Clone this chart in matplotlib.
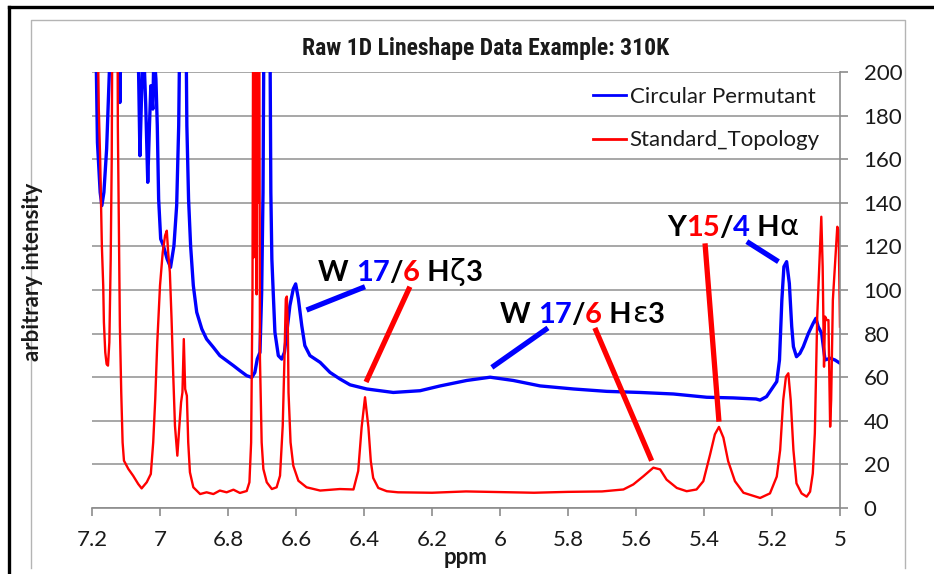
import matplotlib
matplotlib.use("Agg")
import matplotlib.pyplot as plt
from matplotlib.lines import Line2D
from matplotlib import font_manager

blue = '#0000ff'
red = '#ff0000'
gray = '#a0a0a0'

# Circular Permutant trace (ppm, intensity); values > 200 run off the top
cp_ppm = [7.200, 7.190, 7.184, 7.176, 7.171, 7.165, 7.157, 7.149, 7.145, 7.122, 7.118, 7.114,
          7.066, 7.063, 7.059, 7.054, 7.049, 7.042, 7.036, 7.031, 7.027, 7.021, 7.018, 7.012,
          7.008, 7.004, 6.998, 6.990, 6.979, 6.969, 6.959, 6.951, 6.945, 6.941, 6.924, 6.921,
          6.916, 6.910, 6.902, 6.892, 6.877, 6.863, 6.843, 6.824, 6.804, 6.784, 6.765, 6.745,
          6.730, 6.721, 6.714, 6.706, 6.701, 6.697, 6.694, 6.677, 6.674, 6.671, 6.667, 6.662,
          6.652, 6.642, 6.634, 6.627, 6.618, 6.608, 6.601, 6.593, 6.583, 6.574, 6.559, 6.529,
          6.500, 6.471, 6.441, 6.392, 6.314, 6.235, 6.176, 6.098, 6.029, 5.961, 5.882, 5.784,
          5.686, 5.588, 5.490, 5.392, 5.314, 5.247, 5.235, 5.216, 5.196, 5.186, 5.178, 5.171,
          5.165, 5.157, 5.149, 5.142, 5.137, 5.128, 5.118, 5.108, 5.093, 5.079, 5.071, 5.064,
          5.054, 5.044, 5.029, 5.015, 5.000]
cp_int = [230, 230, 167.7, 144.8, 138.7, 144.8, 164.7, 199.8, 230, 230, 186, 230,
          230, 199.8, 161.6, 190.7, 215, 185, 149.4, 175.4, 193.7, 183, 210, 196.8,
          175.4, 141.7, 123.4, 120.3, 114.2, 110.4, 120.3, 138.7, 175.4, 230, 230, 175.4,
          141.7, 120.3, 102, 89.8, 82.1, 77.5, 73.7, 69.9, 67.6, 65.3, 63, 60.7,
          59.9, 62.2, 68.3, 71.4, 98.9, 144.8, 230, 230, 144.8, 114.2, 98.9, 80.6,
          69.9, 68.3, 71.4, 80.6, 92.8, 100.5, 102.8, 95.9, 83.6, 74.5, 69.9, 66.8,
          62.2, 59.2, 56.5, 54.6, 53, 53.8, 56, 58.5, 60, 58.5, 56, 54.6,
          53.5, 53, 52.3, 50.8, 50.5, 50, 49.5, 51.1, 55.7, 58, 67.9, 95.4,
          110.7, 113, 103, 83.2, 74, 69.4, 70.9, 74, 80.1, 84.7, 87, 83.2,
          80.1, 67.9, 68.7, 67.9, 66.4]

# Standard_Topology trace
st_ppm = [7.200, 7.184, 7.180, 7.176, 7.173, 7.171, 7.167, 7.165, 7.161, 7.157, 7.153, 7.149,
          7.145, 7.142, 7.140, 7.125, 7.124, 7.121, 7.118, 7.114, 7.110, 7.106, 7.093, 7.079,
          7.064, 7.054, 7.039, 7.027, 7.020, 7.014, 7.008, 7.000, 6.992, 6.985, 6.980, 6.976,
          6.971, 6.966, 6.961, 6.956, 6.949, 6.943, 6.938, 6.934, 6.930, 6.926, 6.921, 6.917,
          6.912, 6.902, 6.882, 6.863, 6.843, 6.824, 6.804, 6.784, 6.765, 6.745, 6.737, 6.732,
          6.728, 6.726, 6.724, 6.722, 6.720, 6.718, 6.716, 6.714, 6.712, 6.710, 6.708, 6.706,
          6.701, 6.696, 6.686, 6.671, 6.657,
          6.647, 6.639, 6.634, 6.630, 6.627, 6.624, 6.622, 6.616, 6.608, 6.593, 6.569, 6.529,
          6.471, 6.431, 6.417, 6.407, 6.397, 6.387, 6.380, 6.373, 6.358, 6.333, 6.300, 6.200,
          6.100, 6.000, 5.900, 5.800, 5.700, 5.637, 5.608, 5.578, 5.549, 5.529, 5.510, 5.480,
          5.451, 5.422, 5.402, 5.382, 5.368, 5.356, 5.343, 5.329, 5.309, 5.284, 5.235, 5.206,
          5.186, 5.176, 5.167, 5.159, 5.152, 5.145, 5.137, 5.128, 5.113, 5.098, 5.088, 5.080,
          5.074, 5.067, 5.061, 5.055, 5.051, 5.047, 5.044, 5.039, 5.034, 5.029, 5.026, 5.021,
          5.015, 5.008, 5.004, 5.000]
st_int = [230, 230, 183, 160, 137, 120.3, 102, 85.2, 71.4, 66, 65.3, 76,
          114.2, 160, 230, 230, 175.4, 129.5, 83.6, 53, 30.1, 21.7, 17.9, 14.8,
          11, 9, 11.8, 15.6, 30.1, 50, 76, 102, 117.3, 125, 127.2, 117.3,
          108.1, 86.7, 60.7, 37.8, 24, 37.8, 48.5, 53, 77.5, 54.6, 51.5, 30.1,
          16.4, 9.5, 6.4, 7.2, 6.4, 8, 7.2, 8.4, 6.9, 7.8, 11.8, 30,
          98.9, 230, 115, 230, 130, 230, 98, 230, 140, 230, 230, 68.3,
          30.1, 17.9, 11.8, 8.7, 9.5,
          14.8, 37.8, 68.3, 95.9, 97, 83.6, 53, 30.1, 19.4, 12.5, 9.5, 8,
          8.7, 8.5, 17, 37, 50.8, 37, 21.5, 13.8, 9.2, 7.7, 7.2, 7.0,
          7.6, 7.3, 7.0, 7.4, 7.6, 8.5, 10.8, 14.6, 18.5, 17.7, 13, 9.2,
          7.7, 8.5, 12.3, 24.6, 33.8, 37.2, 32.3, 21.5, 12.3, 7, 4.6, 6.7,
          14.4, 26.6, 49.5, 60.2, 61.8, 49.5, 26.6, 11.3, 6.7, 5.2, 7.5, 15.9,
          34.3, 87.8, 110.7, 133.6, 110.7, 64.8, 87.8, 86.2, 86.2, 37.3, 49.5, 95.4,
          110.7, 129, 127.5, 83.2]

xticks = [7.2, 7.0, 6.8, 6.6, 6.4, 6.2, 6.0, 5.8, 5.6, 5.4, 5.2, 5.0]
xlabels = ['7.2', '7', '6.8', '6.6', '6.4', '6.2', '6', '5.8', '5.6', '5.4', '5.2', '5']
yticks = [0, 20, 40, 60, 80, 100, 120, 140, 160, 180, 200]

# peak labels: (text pieces with colours), text anchor
labels = [
    ([('W ', 'k'), ('17', blue), ('/', 'k'), ('6', red), (' H', 'k'), ('ζ', 'k'), ('3', 'k')], (6.535, 108)),
    ([('W ', 'k'), ('17', blue), ('/', 'k'), ('6', red), (' H', 'k'), ('ε', 'k'), ('3', 'k')], (6.000, 88.5)),
    ([('Y', 'k'), ('15', red), ('/', 'k'), ('4', blue), (' H', 'k'), ('α', 'k')], (5.509, 128.4)),
]
leaders = [
    ((6.569, 90.8), (6.397, 101.5), blue),
    ((6.265, 101.5), (6.394, 57.8), red),
    ((5.859, 82.6), (6.024, 64.5), blue),
    ((5.721, 82.6), (5.554, 21.7), red),
    ((5.397, 121.4), (5.356, 39.6), red),
    ((5.274, 122.2), (5.181, 113), blue),
]

# look for a narrow bold face for the title, the original uses a condensed look
entries = font_manager.fontManager.ttflist
names = {f.name for f in entries}
narrow = None
for cand in ['Liberation Sans Narrow', 'Roboto Condensed', 'Open Sans Condensed',
             'Noto Sans Condensed', 'DejaVu Sans Condensed']:
    if cand in names:
        narrow = cand
        break
if narrow is None:
    for f in entries:
        if 'Condensed' in f.name or 'Narrow' in f.name:
            narrow = f.name
            break
title_size = 17 if narrow else 14.5

plt.rcParams['font.family'] = ['Lato', 'DejaVu Sans']

W, H = 934, 574
fig = plt.figure(figsize=(W / 100, H / 100), dpi=100)
ax = fig.add_axes([92 / W, (H - 508) / H, 748 / W, 436 / H])

ax.plot(cp_ppm, cp_int, color=blue, lw=2.4, label='Circular Permutant')
ax.plot(st_ppm, st_int, color=red, lw=1.7, label='Standard_Topology')

ax.set_xlim(7.2, 5.0)
ax.set_ylim(0, 200)
ax.set_xticks(xticks)
ax.set_xticklabels(xlabels)
ax.set_yticks(yticks)
ax.yaxis.tick_right()
ax.grid(axis='y', color=gray, lw=1.3)
ax.set_axisbelow(True)
for s in ['left', 'top']:
    ax.spines[s].set_visible(False)
for s in ['right', 'bottom']:
    ax.spines[s].set_color('#8c8c8c')
    ax.spines[s].set_linewidth(1.2)
ax.tick_params(axis='both', direction='out', length=6, width=1.2, color='#8c8c8c',
               labelsize=16, labelcolor='#1a1a1a')
ax.tick_params(axis='x', pad=10)
ax.tick_params(axis='y', pad=11)

leg = ax.legend(loc='upper left', bbox_to_anchor=(593 / W, 1 - 87 / H),
                bbox_transform=fig.transFigure, frameon=False, fontsize=16,
                handlelength=1.5, handletextpad=0.15, borderpad=0, borderaxespad=0,
                labelspacing=1.05)
for t in leg.get_texts():
    t.set_color('#1a1a1a')
for h in leg.get_lines():
    h.set_linewidth(2.0)

for a, b, c in leaders:
    ax.plot([a[0], b[0]], [a[1], b[1]], color=c, lw=3.8, solid_capstyle='butt', zorder=5)

for parts, (x, y) in labels:
    prev = None
    for s, c in parts:
        greek = s in ('ζ', 'ε', 'α')
        kw = dict(color=c, fontsize=21, fontweight='normal' if greek else 'bold',
                  family=['DejaVu Sans'] if greek else ['Lato', 'DejaVu Sans'], zorder=6)
        if prev is None:
            prev = ax.text(x, y, s, ha='left', va='center', **kw)
        else:
            prev = ax.annotate(s, xy=(1, 0), xycoords=prev, ha='left', va='bottom', **kw)

fig.text(486 / W, 1 - 48 / H, 'Raw 1D Lineshape Data Example: 310K', ha='center', va='center',
         fontsize=title_size, fontweight='bold', color='#1a1a1a',
         family=[narrow or 'Lato', 'DejaVu Sans'])
fig.text(466 / W, 1 - 557 / H, 'ppm', ha='center', va='center', fontsize=16,
         fontweight='bold', color='#1a1a1a')
fig.text(33 / W, 1 - 272 / H, 'arbitrary intensity', ha='center', va='center', rotation=90,
         fontsize=16, fontweight='bold', color='#1a1a1a')

# outer page frame and inner chart-area border
def px_line(xs, ys, color, lw):
    fig.add_artist(Line2D([x / W for x in xs], [1 - y / H for y in ys], color=color, lw=lw,
                          transform=fig.transFigure))

px_line([9, 9], [7, H], 'black', 2.4)
px_line([9, W], [7, 7], 'black', 2.4)
px_line([31, 31, 905, 905], [H - 6, 20, 20, H - 6], '#b4b4b4', 1.0)

fig.savefig('out.png', dpi=100)
